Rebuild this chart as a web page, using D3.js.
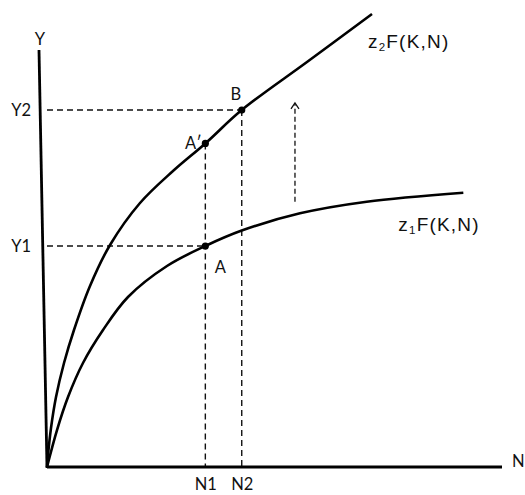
<!DOCTYPE html>
<html>
<head>
<meta charset="utf-8">
<script src="https://cdn.jsdelivr.net/npm/d3@7"></script>
<style>
  html, body { margin: 0; padding: 0; background: #fff; }
  svg { display: block; }
</style>
</head>
<body>
<svg id="chart" width="525" height="495"></svg>
<script>
// ---------- data ----------
const upperN = [0, 0.022, 0.088, 0.198, 0.374, 0.593, 0.945, 1.385, 2.044, 2.769, 3.48, 4.28, 5.714, 7.143];
const upperY = [0, 0.288, 0.935, 1.679, 2.494, 3.285, 4.341, 5.324, 6.331, 7.098, 7.76, 8.56, 9.712, 10.863];
const lowerN = [0, 0.22, 0.462, 0.791, 1.231, 1.78, 2.637, 3.48, 4.28, 5.56, 7.026, 9.15];
const lowerY = [0, 0.887, 1.679, 2.494, 3.285, 4.077, 4.82, 5.30, 5.67, 6.084, 6.362, 6.578];
const nTicks = [3.48, 4.28];
const nTickLabels = ["N1", "N2"];
const yTicks = [5.30, 8.56];
const yTickLabels = ["Y1", "Y2"];
const pointNames = ["A", "A\u2032", "B"];
const pointN = [3.48, 3.48, 4.28];
const pointY = [5.30, 7.76, 8.56];
const shiftArrowN = [5.45, 5.45];
const shiftArrowY = [6.36, 8.73];
const curveLabels = ["2", "1"];
const axisMax = [10, 10];
const axisNames = ["N", "Y"];

// ---------- scales ----------
const svg = d3.select("#chart");
const x = d3.scaleLinear().domain([0, axisMax[0]]).range([47, 502]);
const y = d3.scaleLinear().domain([0, axisMax[1]]).range([467, 50]);

const labelFont = "Lato, 'Open Sans', sans-serif";
const curveFont = "'Liberation Sans', Arial, sans-serif";

// ---------- dashed guide lines ----------
const dash = "6,4";
const guides = svg.append("g").attr("stroke", "#111").attr("stroke-width", 1.4)
  .attr("stroke-dasharray", dash).attr("fill", "none");
guides.append("line").attr("x1", x(0)).attr("x2", x(pointN[0])).attr("y1", y(yTicks[0])).attr("y2", y(yTicks[0]));
guides.append("line").attr("x1", x(0)).attr("x2", x(pointN[2])).attr("y1", y(yTicks[1])).attr("y2", y(yTicks[1]));
guides.append("line").attr("x1", x(nTicks[0])).attr("x2", x(nTicks[0])).attr("y1", y(pointY[1])).attr("y2", y(0));
guides.append("line").attr("x1", x(nTicks[1])).attr("x2", x(nTicks[1])).attr("y1", y(pointY[2])).attr("y2", y(0));

// shift arrow
guides.append("line")
  .attr("x1", x(shiftArrowN[0])).attr("x2", x(shiftArrowN[1]))
  .attr("y1", y(shiftArrowY[0])).attr("y2", y(shiftArrowY[1]) + 1)
  .attr("stroke-dasharray", "5,3").attr("stroke-width", 1.3);
const ax = x(shiftArrowN[1]), ay = y(shiftArrowY[1]);
svg.append("path")
  .attr("d", `M${ax - 4},${ay + 6} L${ax},${ay} L${ax + 4},${ay + 6}`)
  .attr("fill", "none").attr("stroke", "#111").attr("stroke-width", 1.3);

// ---------- curves ----------
const line = d3.line().x(d => x(d[0])).y(d => y(d[1])).curve(d3.curveCatmullRom.alpha(0.5));
const upper = upperN.map((n, i) => [n, upperY[i]]);
const lower = lowerN.map((n, i) => [n, lowerY[i]]);
svg.append("path").attr("d", line(upper)).attr("fill", "none").attr("stroke", "#000").attr("stroke-width", 2.6);
svg.append("path").attr("d", line(lower)).attr("fill", "none").attr("stroke", "#000").attr("stroke-width", 2.6);

// ---------- axes ----------
svg.append("line")
  .attr("x1", x(0)).attr("y1", y(0)).attr("x2", x(axisMax[0])).attr("y2", y(0))
  .attr("stroke", "#000").attr("stroke-width", 2.8);
svg.append("line")
  .attr("x1", x(0)).attr("y1", y(0) + 1).attr("x2", x(0) - 8).attr("y2", y(axisMax[1]))
  .attr("stroke", "#000").attr("stroke-width", 2.8);

const xAxis = d3.axisBottom(x).tickValues(nTicks).tickSize(0).tickPadding(11)
  .tickFormat((d, i) => nTickLabels[i]);
const gx = svg.append("g").attr("transform", `translate(0,${y(0)})`).call(xAxis);
gx.select(".domain").remove();
gx.selectAll("text").attr("font-family", labelFont).attr("font-size", 16.5).attr("fill", "#111");

const yAxis = d3.axisLeft(y).tickValues(yTicks).tickSize(0).tickPadding(0)
  .tickFormat((d, i) => yTickLabels[i]);
const gy = svg.append("g").attr("transform", `translate(31,0)`).call(yAxis);
gy.select(".domain").remove();
gy.selectAll("text").attr("font-family", labelFont).attr("font-size", 16.5).attr("fill", "#111");

svg.append("text").attr("x", x(0) - 7).attr("y", y(axisMax[1]) - 5)
  .attr("text-anchor", "middle").attr("font-family", labelFont).attr("font-size", 16.5)
  .attr("fill", "#111").text(axisNames[1]);
svg.append("text").attr("x", x(axisMax[0]) + 10).attr("y", y(0))
  .attr("text-anchor", "start").attr("font-family", labelFont).attr("font-size", 16.5)
  .attr("fill", "#111").text(axisNames[0]);

// ---------- points ----------
svg.selectAll("circle.pt").data(pointN).join("circle")
  .attr("class", "pt")
  .attr("cx", (d) => x(d)).attr("cy", (d, i) => y(pointY[i])).attr("r", 3.6).attr("fill", "#000");

const ptOffsets = [[15, 27], [-12, 6], [-6, -10]];
svg.selectAll("text.ptl").data(pointNames).join("text")
  .attr("class", "ptl")
  .attr("x", (d, i) => x(pointN[i]) + ptOffsets[i][0])
  .attr("y", (d, i) => y(pointY[i]) + ptOffsets[i][1])
  .attr("text-anchor", "middle").attr("font-family", labelFont).attr("font-size", 16.5)
  .attr("fill", "#111").text(d => d);

// ---------- curve labels ----------
const lblPos = [[upper[upper.length - 1], -4, 34], [lower[lower.length - 1], -65, 38]];
curveLabels.forEach((sub, i) => {
  const p = lblPos[i];
  const t = svg.append("text")
    .attr("x", x(p[0][0]) + p[1]).attr("y", y(p[0][1]) + p[2])
    .attr("font-family", curveFont).attr("font-size", 19).attr("letter-spacing", 1.2)
    .attr("fill", "#111");
  t.append("tspan").text("z");
  t.append("tspan").attr("font-size", 11.5).attr("dy", 3).text(sub);
  t.append("tspan").attr("dy", -3).text("F(K,N)");
});
</script>
</body>
</html>
